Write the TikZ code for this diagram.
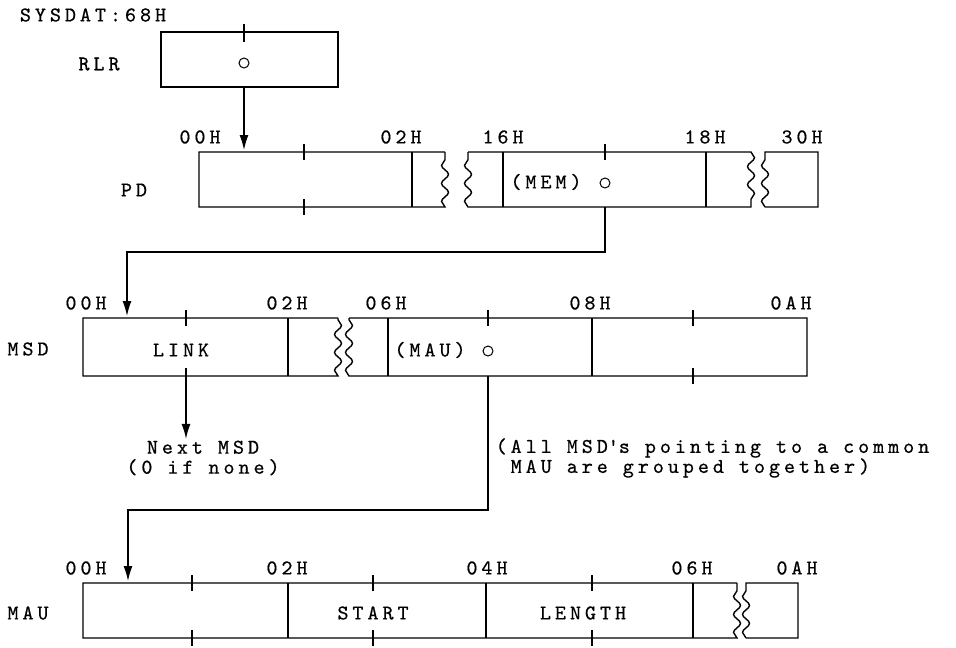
\documentclass[tikz,border=0pt]{standalone}
\usepackage{fontspec}
\newfontfamily\dgmfont[Extension=.otf, LetterSpace=19, FakeBold=0.6]{lmmono10-regular}
\usepackage{tikz}
\usetikzlibrary{positioning}
\usetikzlibrary{arrows.meta}
\usetikzlibrary{decorations.pathmorphing}
\tikzset{>={Latex[length=15pt,width=9pt]}}
\tikzset{wavy/.style = {decoration={snake, segment length=18pt, amplitude=3.5pt}}}
\tikzstyle{lbl} = [draw=none, inner sep=1]
\tikzstyle{ptr} = [draw, circle, inner sep=0pt, minimum size=10pt, line width=1pt]

\begin{document}
\begin{tikzpicture}[x=1pt, y=-1pt, line width=1.4pt, font=\dgmfont\fontsize{21}{20}\selectfont]
\useasboundingbox (0,0) rectangle (956,648);

% RLR
\node [lbl] (sysdat) at (93,15) {SYSDAT:68H};
\node [lbl] (rlr) at (99,64) {RLR};
\draw (161,32) rectangle (338,87);
\draw (244,24) -- (244,42);
\node [ptr] (rlrptr) at (244,63) {};
\coordinate (rlrout) at (244,87);
\coordinate (pdin) at (244,150);
\draw [->] (rlrout) -- (pdin);

% PD
\node [lbl] (pd) at (134,190) {PD};
\node [lbl] (pd00) at (200,137) {00H};
\node [lbl] (pd02) at (401,137) {02H};
\node [lbl] (pd16) at (503,137) {16H};
\node [lbl] (pd18) at (705,137) {18H};
\node [lbl] (pd30) at (802,137) {30H};
\draw (445,152) -- (199,152) -- (199,207) -- (445,207) decorate [wavy] {-- (445,152)};
\draw (412,152) -- (412,207);
\draw (304,144) -- (304,160) (304,199) -- (304,215);
\draw (468,152) -- (751,152) decorate [wavy] {-- (751,207)} -- (468,207) decorate [wavy] {-- (468,152)};
\draw (503,152) -- (503,207) (706,152) -- (706,207);
\draw (605,144) -- (605,160);
\node [lbl] (mem) at (546,182) {(MEM)};
\node [ptr] (memptr) at (605,183) {};
\draw (765,207) decorate [wavy] {-- (765,152)} -- (818,152) -- (818,207) -- (765,207);

% PD -> MSD
\coordinate (memout) at (605,207);
\coordinate (bend1) at (127,252);
\coordinate (msdin) at (127,316);
\draw [->] (memout) |- (bend1) -- (msdin);

% MSD
\node [lbl] (msd) at (28,349) {MSD};
\node [lbl] (msd00) at (86,303) {00H};
\node [lbl] (msd02) at (287,303) {02H};
\node [lbl] (msd06) at (386,303) {06H};
\node [lbl] (msd08) at (590,303) {08H};
\node [lbl] (msd0a) at (791,303) {0AH};
\draw (338,318) -- (83,318) -- (83,376) -- (338,376) decorate [wavy] {-- (338,318)};
\draw (288,318) -- (288,376);
\draw (186,310) -- (186,326);
\node [lbl] (link) at (181,350) {LINK};
\draw (349,318) -- (807,318) -- (807,376) -- (349,376) decorate [wavy] {-- (349,318)};
\draw (388,318) -- (388,376) (592,318) -- (592,376);
\draw (488,310) -- (488,326);
\draw (693,310) -- (693,326) (693,368) -- (693,384);
\node [lbl] (mau) at (430,350) {(MAU)};
\node [ptr] (mauptr) at (488,351) {};

% next MSD
\coordinate (linkout) at (186,368);
\node [lbl, align=center] (nextmsd) at (203,458) {Next MSD\\(0 if none)};
\draw [->] (linkout) -- (linkout |- nextmsd.north);
\node [lbl, align=left, anchor=west] (grouped) at (494,458) {(All MSD\textquotesingle s pointing to a common\\~MAU are grouped together)};

% MSD -> MAU
\coordinate (mauout) at (488,376);
\coordinate (bend2) at (128,510);
\coordinate (mauin) at (128,581);
\draw [->] (mauout) |- (bend2) -- (mauin);

% MAU
\node [lbl] (maulbl) at (28,613) {MAU};
\node [lbl] (mau00) at (86,568) {00H};
\node [lbl] (mau02) at (287,568) {02H};
\node [lbl] (mau04) at (487,568) {04H};
\node [lbl] (mau06) at (692,568) {06H};
\node [lbl] (mau0a) at (797,568) {0AH};
\draw (737,583) -- (83,583) -- (83,638) -- (737,638) decorate [wavy] {-- (737,583)};
\draw (288,583) -- (288,638) (486,583) -- (486,638) (693,583) -- (693,638);
\foreach \x in {192,373,592}
  \draw (\x,575) -- (\x,591) (\x,630) -- (\x,646);
\node [lbl] (start) at (373,613) {START};
\node [lbl] (length) at (583,613) {LENGTH};
\draw (746,638) decorate [wavy] {-- (746,583)} -- (798,583) -- (798,638) -- (746,638);
\end{tikzpicture}
\end{document}
